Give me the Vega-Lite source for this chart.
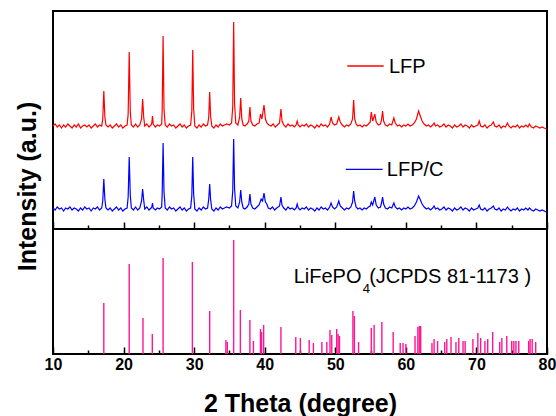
{
  "$schema": "https://vega.github.io/schema/vega-lite/v6.json",
  "padding": {"left": 14, "top": 10, "right": 8, "bottom": 0},
  "spacing": 0,
  "bounds": "flush",
  "config": {
    "view": {"stroke": "black", "strokeWidth": 2},
    "font": "Liberation Sans",
    "axis": {"grid": false, "domain": false}
  },
  "datasets": {
    "lfp": [
      {"x":10.0,"y":103},{"x":10.3,"y":105},{"x":10.6,"y":102},{"x":10.9,"y":104},{"x":11.2,"y":101},{"x":11.5,"y":104},{"x":11.8,"y":102},{"x":12.1,"y":105},{"x":12.4,"y":103},{"x":12.7,"y":101},{"x":13.0,"y":104},{"x":13.3,"y":102},{"x":13.6,"y":105},{"x":13.9,"y":101},{"x":14.2,"y":103},{"x":14.5,"y":104},{"x":14.8,"y":102},{"x":15.1,"y":104},{"x":15.4,"y":101},{"x":15.7,"y":103},{"x":16.0,"y":105},{"x":16.3,"y":102},{"x":16.6,"y":104},{"x":16.9,"y":103},
      {"x":17.05,"y":110},{"x":17.2,"y":138},{"x":17.35,"y":112},{"x":17.5,"y":104},{"x":17.8,"y":102},{"x":18.1,"y":104},{"x":18.4,"y":101},{"x":18.7,"y":103},{"x":19.0,"y":105},{"x":19.3,"y":102},{"x":19.6,"y":104},{"x":19.9,"y":101},{"x":20.2,"y":103},{"x":20.5,"y":104},
      {"x":20.65,"y":115},{"x":20.8,"y":177},{"x":20.95,"y":118},{"x":21.1,"y":104},{"x":21.4,"y":102},{"x":21.7,"y":105},{"x":22.0,"y":102},{"x":22.3,"y":104},
      {"x":22.55,"y":110},{"x":22.7,"y":130},{"x":22.85,"y":112},{"x":23.0,"y":103},{"x":23.3,"y":105},{"x":23.6,"y":102},{"x":23.9,"y":104},
      {"x":24.0,"y":106},{"x":24.1,"y":113},{"x":24.2,"y":105},{"x":24.5,"y":102},{"x":24.8,"y":104},{"x":25.1,"y":103},{"x":25.4,"y":105},
      {"x":25.47,"y":118},{"x":25.6,"y":193},{"x":25.73,"y":120},{"x":25.9,"y":104},{"x":26.2,"y":102},{"x":26.5,"y":105},{"x":26.8,"y":103},{"x":27.1,"y":104},{"x":27.4,"y":101},{"x":27.7,"y":103},{"x":28.0,"y":105},{"x":28.3,"y":102},{"x":28.6,"y":104},{"x":28.9,"y":101},{"x":29.2,"y":103},{"x":29.5,"y":104},
      {"x":29.67,"y":118},{"x":29.8,"y":179},{"x":29.93,"y":120},{"x":30.1,"y":103},{"x":30.4,"y":101},{"x":30.7,"y":104},{"x":31.0,"y":102},{"x":31.3,"y":105},{"x":31.6,"y":103},{"x":31.9,"y":104},
      {"x":32.07,"y":112},{"x":32.2,"y":137},{"x":32.33,"y":113},{"x":32.5,"y":103},{"x":32.8,"y":101},{"x":33.1,"y":104},{"x":33.4,"y":102},{"x":33.7,"y":105},{"x":34.0,"y":103},{"x":34.3,"y":104},{"x":34.6,"y":105},{"x":35.0,"y":104},{"x":35.3,"y":106},
      {"x":35.47,"y":122},{"x":35.6,"y":207},{"x":35.73,"y":125},{"x":35.9,"y":106},{"x":36.2,"y":104},{"x":36.45,"y":112},{"x":36.6,"y":131},{"x":36.75,"y":110},{"x":36.95,"y":104},{"x":37.2,"y":103},{"x":37.5,"y":105},{"x":37.75,"y":108},{"x":37.9,"y":122},{"x":38.05,"y":108},{"x":38.3,"y":104},{"x":38.6,"y":103},{"x":38.9,"y":105},{"x":39.2,"y":106},{"x":39.4,"y":115},{"x":39.6,"y":110},{"x":39.9,"y":124},{"x":40.1,"y":110},{"x":40.3,"y":106},{"x":40.6,"y":104},{"x":40.9,"y":103},{"x":41.2,"y":105},{"x":41.5,"y":102},{"x":41.8,"y":104},{"x":42.1,"y":106},
      {"x":42.3,"y":120},{"x":42.45,"y":108},{"x":42.7,"y":104},{"x":43.0,"y":102},{"x":43.3,"y":105},{"x":43.6,"y":103},{"x":43.9,"y":104},{"x":44.2,"y":102},{"x":44.45,"y":104},{"x":44.6,"y":108},{"x":44.75,"y":104},{"x":45.0,"y":102},{"x":45.3,"y":104},{"x":45.6,"y":103},{"x":45.9,"y":105},{"x":46.2,"y":102},{"x":46.5,"y":104},{"x":46.8,"y":103},{"x":47.1,"y":101},{"x":47.4,"y":104},{"x":47.7,"y":102},{"x":48.0,"y":105},{"x":48.3,"y":103},{"x":48.6,"y":104},{"x":48.9,"y":102},{"x":49.2,"y":105},
      {"x":49.4,"y":112},{"x":49.6,"y":106},{"x":49.9,"y":104},{"x":50.2,"y":105},{"x":50.5,"y":112},{"x":50.7,"y":107},{"x":51.0,"y":104},{"x":51.3,"y":102},{"x":51.6,"y":104},{"x":51.9,"y":103},{"x":52.2,"y":105},{"x":52.45,"y":110},{"x":52.6,"y":129},{"x":52.75,"y":110},{"x":52.95,"y":105},{"x":53.2,"y":103},{"x":53.5,"y":104},{"x":53.8,"y":102},{"x":54.1,"y":104},{"x":54.4,"y":103},{"x":54.7,"y":105},{"x":54.95,"y":107},{"x":55.1,"y":117},{"x":55.3,"y":108},{"x":55.6,"y":115},{"x":55.8,"y":107},{"x":56.1,"y":104},{"x":56.4,"y":105},{"x":56.55,"y":109},{"x":56.7,"y":118},{"x":56.85,"y":108},{"x":57.1,"y":104},{"x":57.4,"y":103},{"x":57.7,"y":105},{"x":58.0,"y":104},{"x":58.3,"y":111},{"x":58.5,"y":106},{"x":58.8,"y":103},{"x":59.1,"y":104},{"x":59.4,"y":102},{"x":59.7,"y":104},{"x":60.0,"y":103},{"x":60.3,"y":105},{"x":60.6,"y":103},{"x":60.9,"y":104},{"x":61.2,"y":106},{"x":61.5,"y":110},{"x":61.8,"y":118},{"x":62.0,"y":114},{"x":62.3,"y":108},{"x":62.6,"y":105},{"x":62.9,"y":103},{"x":63.2,"y":104},{"x":63.5,"y":102},{"x":63.8,"y":104},{"x":64.0,"y":106},{"x":64.2,"y":103},{"x":64.5,"y":104},{"x":64.8,"y":102},{"x":65.1,"y":103},{"x":65.4,"y":105},{"x":65.7,"y":102},{"x":66.0,"y":104},{"x":66.3,"y":103},{"x":66.6,"y":101},{"x":66.9,"y":104},{"x":67.2,"y":102},{"x":67.5,"y":103},{"x":67.8,"y":105},{"x":68.1,"y":102},{"x":68.4,"y":104},{"x":68.7,"y":103},{"x":69.0,"y":101},{"x":69.3,"y":104},{"x":69.6,"y":102},{"x":69.9,"y":103},{"x":70.2,"y":104},{"x":70.4,"y":108},{"x":70.6,"y":103},{"x":70.9,"y":102},{"x":71.2,"y":104},{"x":71.5,"y":101},{"x":71.8,"y":103},{"x":72.1,"y":104},{"x":72.4,"y":107},{"x":72.6,"y":103},{"x":72.9,"y":102},{"x":73.2,"y":104},{"x":73.5,"y":101},{"x":73.8,"y":103},{"x":74.1,"y":102},{"x":74.4,"y":106},{"x":74.6,"y":103},{"x":74.9,"y":101},{"x":75.2,"y":103},{"x":75.5,"y":102},{"x":75.8,"y":104},{"x":76.1,"y":101},{"x":76.4,"y":103},{"x":76.7,"y":102},{"x":77.0,"y":104},{"x":77.3,"y":102},{"x":77.5,"y":105},{"x":77.8,"y":102},{"x":78.1,"y":101},{"x":78.4,"y":103},{"x":78.7,"y":102},{"x":79.0,"y":101},{"x":79.3,"y":102},{"x":79.6,"y":101},{"x":79.9,"y":100},{"x":80.0,"y":100}
    ],
    "lfpc": [
      {"x":10.0,"y":21},{"x":10.3,"y":19},{"x":10.6,"y":22},{"x":10.9,"y":20},{"x":11.2,"y":21},{"x":11.5,"y":18},{"x":11.8,"y":21},{"x":12.1,"y":20},{"x":12.4,"y":22},{"x":12.7,"y":19},{"x":13.0,"y":21},{"x":13.3,"y":20},{"x":13.6,"y":18},{"x":13.9,"y":21},{"x":14.2,"y":19},{"x":14.5,"y":22},{"x":14.8,"y":20},{"x":15.1,"y":21},{"x":15.4,"y":18},{"x":15.7,"y":21},{"x":16.0,"y":20},{"x":16.3,"y":22},{"x":16.6,"y":19},{"x":16.9,"y":21},
      {"x":17.05,"y":28},{"x":17.2,"y":50},{"x":17.35,"y":30},{"x":17.5,"y":21},{"x":17.8,"y":19},{"x":18.1,"y":21},{"x":18.4,"y":18},{"x":18.7,"y":20},{"x":19.0,"y":22},{"x":19.3,"y":19},{"x":19.6,"y":21},{"x":19.9,"y":18},{"x":20.2,"y":20},{"x":20.5,"y":21},
      {"x":20.65,"y":32},{"x":20.8,"y":72},{"x":20.95,"y":34},{"x":21.1,"y":21},{"x":21.4,"y":19},{"x":21.7,"y":22},{"x":22.0,"y":19},{"x":22.3,"y":21},
      {"x":22.55,"y":28},{"x":22.7,"y":40},{"x":22.85,"y":29},{"x":23.0,"y":20},{"x":23.3,"y":22},{"x":23.6,"y":19},{"x":23.9,"y":21},{"x":24.0,"y":22},{"x":24.1,"y":26},{"x":24.2,"y":21},{"x":24.5,"y":19},{"x":24.8,"y":21},{"x":25.1,"y":20},{"x":25.4,"y":22},
      {"x":25.47,"y":35},{"x":25.6,"y":86},{"x":25.73,"y":37},{"x":25.9,"y":21},{"x":26.2,"y":19},{"x":26.5,"y":22},{"x":26.8,"y":20},{"x":27.1,"y":21},{"x":27.4,"y":18},{"x":27.7,"y":20},{"x":28.0,"y":22},{"x":28.3,"y":19},{"x":28.6,"y":21},{"x":28.9,"y":18},{"x":29.2,"y":20},{"x":29.5,"y":21},
      {"x":29.67,"y":33},{"x":29.8,"y":72},{"x":29.93,"y":35},{"x":30.1,"y":20},{"x":30.4,"y":18},{"x":30.7,"y":21},{"x":31.0,"y":19},{"x":31.3,"y":22},{"x":31.6,"y":20},{"x":31.9,"y":21},
      {"x":32.07,"y":30},{"x":32.2,"y":45},{"x":32.33,"y":30},{"x":32.5,"y":20},{"x":32.8,"y":18},{"x":33.1,"y":21},{"x":33.4,"y":19},{"x":33.7,"y":22},{"x":34.0,"y":20},{"x":34.3,"y":21},{"x":34.6,"y":22},{"x":35.0,"y":21},{"x":35.3,"y":23},
      {"x":35.47,"y":38},{"x":35.6,"y":90},{"x":35.73,"y":40},{"x":35.9,"y":23},{"x":36.2,"y":21},{"x":36.45,"y":27},{"x":36.6,"y":39},{"x":36.75,"y":27},{"x":36.95,"y":21},{"x":37.2,"y":20},{"x":37.5,"y":22},{"x":37.75,"y":25},{"x":37.9,"y":35},{"x":38.05,"y":25},{"x":38.3,"y":21},{"x":38.6,"y":20},{"x":38.9,"y":22},{"x":39.2,"y":24},{"x":39.5,"y":30},{"x":39.7,"y":28},{"x":39.9,"y":36},{"x":40.1,"y":27},{"x":40.3,"y":25},{"x":40.5,"y":21},{"x":40.8,"y":20},{"x":41.1,"y":22},{"x":41.4,"y":19},{"x":41.7,"y":21},{"x":42.1,"y":23},{"x":42.3,"y":32},{"x":42.45,"y":24},{"x":42.7,"y":21},{"x":43.0,"y":19},{"x":43.3,"y":22},{"x":43.6,"y":20},{"x":43.9,"y":21},{"x":44.2,"y":19},{"x":44.45,"y":21},{"x":44.6,"y":25},{"x":44.75,"y":21},{"x":45.0,"y":19},{"x":45.3,"y":21},{"x":45.6,"y":20},{"x":45.9,"y":22},{"x":46.2,"y":19},{"x":46.5,"y":21},{"x":46.8,"y":20},{"x":47.1,"y":18},{"x":47.4,"y":21},{"x":47.7,"y":19},{"x":48.0,"y":22},{"x":48.3,"y":20},{"x":48.6,"y":21},{"x":48.9,"y":19},{"x":49.2,"y":22},{"x":49.4,"y":26},{"x":49.6,"y":22},{"x":49.9,"y":20},{"x":50.2,"y":22},{"x":50.5,"y":28},{"x":50.7,"y":23},{"x":51.0,"y":21},{"x":51.3,"y":19},{"x":51.6,"y":21},{"x":51.9,"y":20},{"x":52.2,"y":22},{"x":52.45,"y":27},{"x":52.6,"y":38},{"x":52.75,"y":28},{"x":52.95,"y":22},{"x":53.2,"y":20},{"x":53.5,"y":21},{"x":53.8,"y":19},{"x":54.1,"y":21},{"x":54.4,"y":20},{"x":54.7,"y":22},{"x":54.95,"y":23},{"x":55.1,"y":27},{"x":55.3,"y":24},{"x":55.6,"y":32},{"x":55.8,"y":24},{"x":56.1,"y":21},{"x":56.4,"y":22},{"x":56.55,"y":26},{"x":56.7,"y":32},{"x":56.85,"y":25},{"x":57.1,"y":21},{"x":57.4,"y":20},{"x":57.7,"y":22},{"x":58.0,"y":21},{"x":58.3,"y":26},{"x":58.5,"y":22},{"x":58.8,"y":20},{"x":59.1,"y":21},{"x":59.4,"y":19},{"x":59.7,"y":21},{"x":60.0,"y":20},{"x":60.3,"y":22},{"x":60.6,"y":20},{"x":60.9,"y":21},{"x":61.2,"y":23},{"x":61.5,"y":27},{"x":61.8,"y":33},{"x":62.0,"y":30},{"x":62.3,"y":25},{"x":62.6,"y":22},{"x":62.9,"y":20},{"x":63.2,"y":21},{"x":63.5,"y":19},{"x":63.8,"y":21},{"x":64.0,"y":23},{"x":64.2,"y":20},{"x":64.5,"y":21},{"x":64.8,"y":19},{"x":65.1,"y":20},{"x":65.4,"y":22},{"x":65.7,"y":19},{"x":66.0,"y":21},{"x":66.3,"y":20},{"x":66.6,"y":18},{"x":66.9,"y":21},{"x":67.2,"y":19},{"x":67.5,"y":20},{"x":67.8,"y":22},{"x":68.1,"y":19},{"x":68.4,"y":21},{"x":68.7,"y":20},{"x":69.0,"y":18},{"x":69.3,"y":21},{"x":69.6,"y":19},{"x":69.9,"y":20},{"x":70.2,"y":21},{"x":70.4,"y":24},{"x":70.6,"y":20},{"x":70.9,"y":19},{"x":71.2,"y":21},{"x":71.5,"y":18},{"x":71.8,"y":20},{"x":72.1,"y":21},{"x":72.4,"y":23},{"x":72.6,"y":20},{"x":72.9,"y":19},{"x":73.2,"y":21},{"x":73.5,"y":18},{"x":73.8,"y":20},{"x":74.1,"y":19},{"x":74.4,"y":22},{"x":74.6,"y":20},{"x":74.9,"y":18},{"x":75.2,"y":20},{"x":75.5,"y":19},{"x":75.8,"y":21},{"x":76.1,"y":18},{"x":76.4,"y":20},{"x":76.7,"y":19},{"x":77.0,"y":21},{"x":77.3,"y":19},{"x":77.5,"y":21},{"x":77.8,"y":19},{"x":78.1,"y":18},{"x":78.4,"y":20},{"x":78.7,"y":19},{"x":79.0,"y":18},{"x":79.3,"y":19},{"x":79.6,"y":18},{"x":79.9,"y":17},{"x":80.0,"y":17}
    ],
    "leg": [
      {"x":51.7,"x2":56.85,"y":163,"s":"LFP"},
      {"x":51.5,"x2":56.7,"y":59.7,"s":"LFP/C"}
    ],
    "legt": [
      {"x":57.6,"y":155.7,"t":"LFP"},
      {"x":57.3,"y":53,"t":"LFP/C"}
    ],
    "ref": [
      {"x":17.2,"h":51},{"x":20.8,"h":90},{"x":22.75,"h":36},{"x":24.07,"h":20},{"x":25.6,"h":96},{"x":29.75,"h":92},{"x":32.2,"h":43},{"x":34.5,"h":14},{"x":34.7,"h":12},{"x":35.6,"h":114},{"x":36.55,"h":44},{"x":37.9,"h":34},{"x":38.4,"h":13},{"x":39.4,"h":25},{"x":39.55,"h":22},{"x":39.85,"h":29},{"x":42.3,"h":27},{"x":44.4,"h":17},{"x":45.05,"h":16},{"x":46.3,"h":14},{"x":46.9,"h":11},{"x":48.1,"h":12},{"x":48.8,"h":12},{"x":49.25,"h":24},{"x":49.5,"h":19},{"x":50.2,"h":25},{"x":50.4,"h":20},{"x":50.6,"h":18},{"x":52.5,"h":43},{"x":52.7,"h":38},{"x":53.3,"h":12},{"x":55.1,"h":26},{"x":55.5,"h":29},{"x":56.6,"h":32},{"x":58.2,"h":22},{"x":59.2,"h":11},{"x":59.6,"h":11},{"x":60.0,"h":10},{"x":61.3,"h":18},{"x":61.7,"h":27},{"x":61.9,"h":28},{"x":62.1,"h":28},{"x":63.7,"h":11},{"x":64.0,"h":15},{"x":64.5,"h":13},{"x":65.5,"h":12},{"x":65.8,"h":15},{"x":66.4,"h":17},{"x":67.1,"h":12},{"x":67.5,"h":16},{"x":68.1,"h":13},{"x":68.4,"h":13},{"x":69.5,"h":15},{"x":70.2,"h":21},{"x":70.6,"h":16},{"x":71.2,"h":13},{"x":71.6,"h":15},{"x":72.3,"h":22},{"x":73.3,"h":12},{"x":73.6,"h":16},{"x":74.3,"h":18},{"x":75.0,"h":13},{"x":75.3,"h":13},{"x":75.6,"h":13},{"x":76.0,"h":13},{"x":77.4,"h":13},{"x":77.6,"h":15},{"x":77.9,"h":15},{"x":78.4,"h":12}
    ],
    "ann": [
      {"x":44.1,"y":71.3,"t":"LiFePO"},
      {"x":54.8,"y":71.3,"t":"(JCPDS 81-1173 )"}
    ],
    "sub": [
      {"x":53.9,"y":61.3,"t":"4"}
    ]
  },
  "vconcat": [
    {
      "width": 494,
      "height": 218,
      "encoding": {
        "x": {"field": "x", "type": "quantitative", "scale": {"domain": [10, 80], "nice": false},
          "axis": {"values": [10,15,20,25,30,35,40,45,50,55,60,65,70,75,80], "labels": false, "title": null, "domain": false,
            "tickColor": "black", "tickWidth": 1.5,
            "tickSize": {"condition": {"test": "datum.value % 10 === 0", "value": -7}, "value": -4}}},
        "y": {"field": "y", "type": "quantitative", "scale": {"domain": [0, 218], "nice": false},
          "axis": {"title": "Intensity (a.u.)", "labels": false, "ticks": false, "domain": false,
            "titleFontSize": 25, "titleFontWeight": "bold", "titleColor": "black",
            "titleX": -26, "titleY": 175, "titleBaseline": "middle", "titleAngle": -90, "titleAlign": "center"}}
      },
      "layer": [
        {"data": {"name": "lfp"}, "mark": {"type": "line", "color": "#ff0000", "strokeWidth": 1.2}},
        {"data": {"name": "lfpc"}, "mark": {"type": "line", "color": "#0000ff", "strokeWidth": 1.2}},
        {"data": {"name": "leg"}, "mark": {"type": "rule", "strokeWidth": 1.3},
          "encoding": {"x2": {"field": "x2"},
            "color": {"field": "s", "type": "nominal", "scale": {"domain": ["LFP", "LFP/C"], "range": ["#ff0000", "#0000ff"]}, "legend": null}}},
        {"data": {"name": "legt"}, "mark": {"type": "text", "align": "left", "baseline": "alphabetic", "fontSize": 20, "color": "black"},
          "encoding": {"text": {"field": "t"}}}
      ]
    },
    {
      "width": 494,
      "height": 125,
      "encoding": {
        "x": {"field": "x", "type": "quantitative", "scale": {"domain": [10, 80], "nice": false},
          "axis": {"values": [10,15,20,25,30,35,40,45,50,55,60,65,70,75,80], "domain": false,
            "labelExpr": "datum.value % 10 === 0 ? datum.label : ''", "labelFlush": false, "labelOverlap": false,
            "labelFontSize": 16, "labelFontWeight": "bold", "labelColor": "black", "labelPadding": 9, "labelBaseline": "top",
            "tickColor": "black", "tickWidth": 1.5,
            "tickSize": {"condition": {"test": "datum.value % 10 === 0", "value": -7}, "value": -4},
            "title": "2 Theta (degree)", "titleFontSize": 25, "titleFontWeight": "bold", "titleColor": "black",
            "titleY": 57, "titleBaseline": "alphabetic"}}
      },
      "layer": [
        {"data": {"name": "ref"}, "mark": {"type": "rule", "color": "#ff1493", "strokeWidth": 1.4},
          "encoding": {"y": {"field": "h", "type": "quantitative", "scale": {"domain": [0, 125], "nice": false}, "axis": null},
            "y2": {"datum": 0}}},
        {"data": {"name": "ann"}, "mark": {"type": "text", "align": "left", "baseline": "alphabetic", "fontSize": 20, "color": "black"},
          "encoding": {"y": {"field": "y", "type": "quantitative"}, "text": {"field": "t"}}},
        {"data": {"name": "sub"}, "mark": {"type": "text", "align": "left", "baseline": "alphabetic", "fontSize": 13, "color": "black"},
          "encoding": {"y": {"field": "y", "type": "quantitative"}, "text": {"field": "t"}}}
      ]
    }
  ]
}
